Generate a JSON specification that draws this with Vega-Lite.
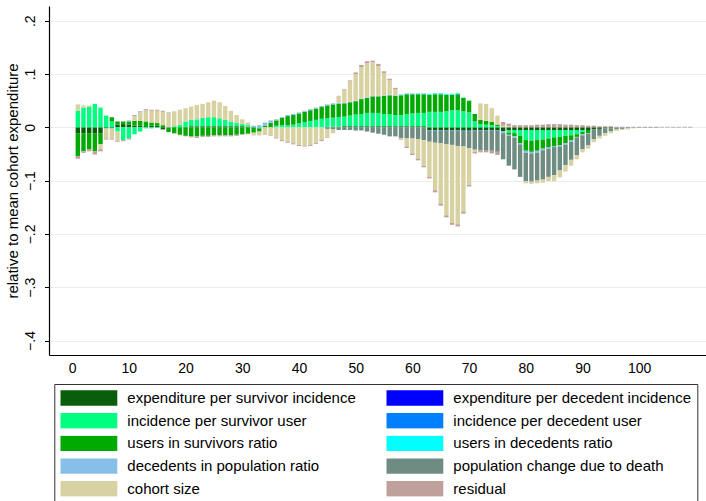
{
  "$schema": "https://vega.github.io/schema/vega-lite/v6.json",
  "width": 657,
  "height": 349,
  "autosize": "none",
  "padding": {"left": 49, "top": 6, "right": 0, "bottom": 146},
  "background": "white",
  "config": {
    "font": "Liberation Sans",
    "view": {"stroke": null},
    "axis": {"labelColor": "#000", "titleColor": "#000", "domainColor": "#000", "tickColor": "#000", "titleFontWeight": "normal"}
  },
  "datasets": {
    "comps": [
      {"k": "esi", "label": "expenditure per survivor incidence", "idx": 1},
      {"k": "edi", "label": "expenditure per decedent incidence", "idx": 2},
      {"k": "isu", "label": "incidence per survivor user", "idx": 3},
      {"k": "idu", "label": "incidence per decedent user", "idx": 4},
      {"k": "usr", "label": "users in survivors ratio", "idx": 5},
      {"k": "udr", "label": "users in decedents ratio", "idx": 6},
      {"k": "dpr", "label": "decedents in population ratio", "idx": 7},
      {"k": "pcd", "label": "population change due to death", "idx": 8},
      {"k": "coh", "label": "cohort size", "idx": 9},
      {"k": "res", "label": "residual", "idx": 10}
    ]
  },
  "data": {"values": [
    {"a":1,"esi":-0.011,"isu":0.031,"usr":-0.043,"coh":0.012,"res":-0.005},
    {"a":2,"esi":-0.011,"isu":0.037,"usr":-0.034,"coh":0.004,"res":-0.003},
    {"a":3,"esi":-0.011,"isu":0.039,"usr":-0.030,"coh":0.002,"res":-0.004},
    {"a":4,"esi":-0.011,"isu":0.044,"usr":-0.034,"res":-0.006},
    {"a":5,"esi":-0.011,"isu":0.037,"usr":-0.021,"coh":-0.009,"res":-0.004},
    {"a":6,"esi":-0.002,"isu":0.022,"coh":-0.019,"res":-0.002},
    {"a":7,"esi":-0.002,"isu":0.011,"usr":0.008,"coh":-0.019,"res":-0.002},
    {"a":8,"esi":0.005,"usr":0.006,"isu":-0.008,"coh":-0.017,"res":-0.002},
    {"a":9,"esi":0.006,"usr":0.005,"isu":-0.024,"res":-0.002},
    {"a":10,"esi":0.005,"usr":0.006,"dpr":0.002,"isu":-0.021,"res":-0.002},
    {"a":11,"esi":0.003,"usr":0.009,"coh":0.009,"res":0.002,"isu":-0.013},
    {"a":12,"esi":0.003,"usr":0.009,"coh":0.016,"res":0.002,"isu":-0.008},
    {"a":13,"esi":0.002,"usr":0.009,"coh":0.021,"res":0.002,"isu":-0.002},
    {"a":14,"esi":0.003,"usr":0.006,"coh":0.022,"res":0.002,"isu":-0.002},
    {"a":15,"esi":0.003,"usr":0.005,"coh":0.023,"res":0.002,"isu":-0.001},
    {"a":16,"usr":0.004,"coh":0.025,"res":0.002,"esi":-0.004},
    {"a":17,"coh":0.027,"res":0.001,"usr":-0.008,"esi":-0.001},
    {"a":18,"isu":0.002,"coh":0.028,"usr":-0.011,"res":-0.001},
    {"a":19,"isu":0.005,"coh":0.028,"usr":-0.014,"res":-0.001},
    {"a":20,"esi":0.001,"isu":0.010,"coh":0.025,"usr":-0.016,"res":-0.001},
    {"a":21,"esi":0.002,"isu":0.012,"coh":0.025,"usr":-0.017,"res":-0.002},
    {"a":22,"esi":0.002,"isu":0.013,"coh":0.027,"usr":-0.017,"res":-0.003},
    {"a":23,"esi":0.002,"isu":0.016,"coh":0.026,"usr":-0.016,"res":-0.002},
    {"a":24,"esi":0.002,"isu":0.017,"coh":0.028,"usr":-0.016,"res":-0.002},
    {"a":25,"esi":0.002,"isu":0.017,"coh":0.031,"usr":-0.015,"res":-0.002},
    {"a":26,"esi":0.002,"isu":0.015,"coh":0.030,"usr":-0.015,"res":-0.002},
    {"a":27,"esi":0.002,"isu":0.012,"coh":0.026,"usr":-0.015,"res":-0.002},
    {"a":28,"esi":0.002,"isu":0.009,"coh":0.020,"usr":-0.015,"res":-0.002},
    {"a":29,"esi":0.002,"isu":0.006,"coh":0.015,"usr":-0.014,"res":-0.002},
    {"a":30,"esi":0.002,"isu":0.004,"coh":0.009,"usr":-0.013,"res":-0.001},
    {"a":31,"esi":0.001,"isu":0.003,"coh":0.005,"usr":-0.012,"res":-0.001},
    {"a":32,"dpr":0.003,"usr":-0.010,"coh":-0.004,"res":-0.001},
    {"a":33,"dpr":0.004,"isu":-0.002,"usr":-0.006,"coh":-0.006,"res":-0.001},
    {"a":34,"usr":0.003,"dpr":0.006,"coh":-0.013,"res":-0.001},
    {"a":35,"usr":0.008,"dpr":0.005,"coh":-0.015,"res":-0.001},
    {"a":36,"isu":0.003,"usr":0.010,"dpr":0.002,"coh":-0.019,"res":-0.002},
    {"a":37,"isu":0.004,"usr":0.014,"dpr":0.001,"coh":-0.024,"res":-0.002},
    {"a":38,"isu":0.004,"usr":0.017,"dpr":0.002,"coh":-0.027,"res":-0.002},
    {"a":39,"isu":0.005,"usr":0.018,"dpr":0.002,"coh":-0.030,"res":-0.002},
    {"a":40,"isu":0.008,"usr":0.018,"dpr":0.002,"coh":-0.033,"res":-0.002},
    {"a":41,"isu":0.010,"usr":0.019,"dpr":0.002,"coh":-0.034,"res":-0.002},
    {"a":42,"isu":0.012,"usr":0.020,"dpr":0.002,"coh":-0.033,"res":-0.002},
    {"a":43,"isu":0.014,"usr":0.021,"dpr":0.002,"coh":-0.029,"res":-0.002},
    {"a":44,"isu":0.016,"usr":0.022,"dpr":0.002,"coh":-0.024,"res":-0.002},
    {"a":45,"isu":0.017,"usr":0.024,"dpr":0.002,"coh":-0.016,"pcd":-0.003,"res":-0.001},
    {"a":46,"esi":0.001,"isu":0.017,"usr":0.025,"dpr":0.002,"coh":-0.006,"pcd":-0.004,"res":-0.001},
    {"a":47,"esi":0.001,"isu":0.018,"usr":0.025,"dpr":0.002,"coh":0.012,"pcd":-0.005,"res":0.001},
    {"a":48,"esi":0.002,"isu":0.018,"usr":0.025,"dpr":0.001,"coh":0.025,"pcd":-0.005,"res":0.001},
    {"a":49,"esi":0.002,"isu":0.020,"usr":0.025,"dpr":0.001,"coh":0.038,"pcd":-0.005,"res":0.002},
    {"a":50,"esi":0.002,"isu":0.022,"usr":0.025,"dpr":0.001,"coh":0.050,"pcd":-0.006,"res":0.003},
    {"a":51,"esi":0.002,"isu":0.023,"usr":0.028,"dpr":0.001,"coh":0.059,"pcd":-0.006,"res":0.004},
    {"a":52,"esi":0.002,"isu":0.025,"usr":0.028,"dpr":0.001,"coh":0.064,"pcd":-0.008,"res":0.004},
    {"a":53,"esi":0.002,"isu":0.025,"usr":0.031,"dpr":0.001,"coh":0.063,"pcd":-0.010,"res":0.003},
    {"a":54,"esi":0.002,"isu":0.025,"usr":0.031,"dpr":0.001,"coh":0.056,"pcd":-0.012,"res":0.004},
    {"a":55,"esi":0.002,"isu":0.023,"usr":0.034,"dpr":0.001,"coh":0.042,"pcd":-0.014,"res":0.003},
    {"a":56,"esi":0.002,"isu":0.023,"usr":0.035,"dpr":0.001,"coh":0.027,"pcd":-0.017,"res":0.003},
    {"a":57,"esi":0.002,"isu":0.021,"usr":0.036,"dpr":0.001,"coh":0.011,"pcd":-0.017,"res":0.003},
    {"a":58,"esi":0.002,"isu":0.021,"usr":0.037,"dpr":0.001,"udr":0.001,"pcd":-0.020,"coh":-0.003,"res":-0.001},
    {"a":59,"esi":0.002,"isu":0.023,"usr":0.037,"dpr":0.001,"udr":0.001,"pcd":-0.021,"coh":-0.015,"res":-0.003},
    {"a":60,"esi":0.002,"isu":0.024,"usr":0.036,"dpr":0.001,"udr":0.001,"pcd":-0.021,"coh":-0.028,"res":-0.003},
    {"a":61,"esi":0.002,"isu":0.025,"usr":0.035,"dpr":0.001,"udr":0.001,"pcd":-0.022,"coh":-0.037,"res":-0.003},
    {"a":62,"esi":0.002,"isu":0.025,"usr":0.035,"dpr":0.001,"udr":0.001,"pcd":-0.024,"coh":-0.048,"res":-0.003},
    {"a":63,"esi":-0.005,"isu":0.029,"usr":0.032,"udr":0.002,"idu":-0.001,"pcd":-0.021,"coh":-0.066,"res":-0.003},
    {"a":64,"esi":-0.005,"isu":0.029,"usr":0.033,"udr":0.002,"idu":-0.001,"pcd":-0.023,"coh":-0.089,"res":-0.004},
    {"a":65,"esi":-0.005,"isu":0.029,"usr":0.033,"udr":0.002,"idu":-0.001,"pcd":-0.024,"coh":-0.113,"res":-0.004},
    {"a":66,"esi":-0.005,"isu":0.030,"usr":0.031,"udr":0.002,"idu":-0.001,"pcd":-0.026,"coh":-0.133,"res":-0.004},
    {"a":67,"esi":-0.005,"isu":0.032,"usr":0.029,"udr":0.002,"idu":-0.001,"pcd":-0.027,"coh":-0.146,"res":-0.004},
    {"a":68,"esi":-0.005,"isu":0.032,"usr":0.030,"udr":0.002,"idu":-0.001,"pcd":-0.029,"coh":-0.147,"res":-0.004},
    {"a":69,"esi":-0.006,"isu":0.030,"usr":0.025,"udr":0.001,"idu":-0.001,"pcd":-0.029,"coh":-0.122,"res":-0.004},
    {"a":70,"esi":-0.006,"isu":0.028,"usr":0.022,"idu":-0.001,"pcd":-0.032,"coh":-0.069,"res":-0.003},
    {"a":71,"esi":-0.005,"isu":0.011,"usr":0.014,"idu":-0.001,"pcd":-0.036,"coh":-0.004,"res":-0.003},
    {"a":72,"esi":-0.005,"isu":0.006,"usr":0.008,"coh":0.031,"idu":-0.001,"pcd":-0.037,"res":-0.004},
    {"a":73,"esi":-0.005,"isu":0.005,"usr":0.007,"coh":0.032,"idu":-0.001,"pcd":-0.038,"res":-0.003},
    {"a":74,"esi":-0.005,"isu":0.004,"usr":0.006,"coh":0.026,"idu":-0.001,"pcd":-0.038,"res":-0.005},
    {"a":75,"esi":-0.005,"isu":0.002,"usr":0.003,"coh":0.017,"idu":-0.001,"pcd":-0.040,"res":-0.006},
    {"a":76,"coh":0.003,"res":0.007,"esi":-0.007,"dpr":-0.004,"pcd":-0.049},
    {"a":77,"coh":0.002,"res":0.005,"esi":-0.006,"isu":-0.004,"usr":-0.004,"dpr":-0.002,"pcd":-0.056},
    {"a":78,"res":0.004,"esi":-0.005,"isu":-0.006,"usr":-0.006,"dpr":-0.003,"pcd":-0.059},
    {"a":79,"res":0.004,"esi":-0.005,"isu":-0.011,"usr":-0.014,"dpr":-0.002,"pcd":-0.061},
    {"a":80,"res":0.004,"esi":-0.005,"isu":-0.019,"usr":-0.020,"dpr":-0.004,"pcd":-0.053,"coh":-0.004},
    {"a":81,"res":0.004,"esi":-0.005,"isu":-0.020,"usr":-0.021,"dpr":-0.003,"pcd":-0.053,"coh":-0.004},
    {"a":82,"res":0.005,"esi":-0.005,"isu":-0.019,"usr":-0.020,"dpr":-0.004,"pcd":-0.052,"coh":-0.005},
    {"a":83,"res":0.005,"esi":-0.005,"isu":-0.018,"usr":-0.017,"dpr":-0.003,"pcd":-0.055,"coh":-0.006},
    {"a":84,"res":0.006,"esi":-0.005,"isu":-0.016,"usr":-0.017,"dpr":-0.002,"pcd":-0.053,"coh":-0.008},
    {"a":85,"res":0.006,"esi":-0.005,"isu":-0.014,"usr":-0.016,"dpr":-0.002,"pcd":-0.053,"coh":-0.011},
    {"a":86,"res":0.006,"esi":-0.005,"isu":-0.013,"usr":-0.016,"dpr":-0.002,"pcd":-0.045,"coh":-0.013},
    {"a":87,"res":0.005,"esi":-0.005,"isu":-0.011,"usr":-0.014,"dpr":-0.003,"pcd":-0.038,"coh":-0.012},
    {"a":88,"res":0.005,"esi":-0.005,"isu":-0.010,"usr":-0.009,"dpr":-0.003,"pcd":-0.034,"coh":-0.011},
    {"a":89,"res":0.004,"esi":-0.005,"isu":-0.008,"usr":-0.005,"dpr":-0.001,"pcd":-0.033,"coh":-0.008},
    {"a":90,"res":0.004,"esi":-0.005,"isu":-0.004,"usr":-0.004,"dpr":-0.002,"pcd":-0.026,"coh":-0.006},
    {"a":91,"res":0.003,"esi":-0.005,"usr":-0.006,"dpr":-0.001,"pcd":-0.022,"coh":-0.006},
    {"a":92,"res":0.003,"esi":-0.004,"pcd":-0.018,"coh":-0.006},
    {"a":93,"res":0.002,"esi":-0.003,"pcd":-0.013,"coh":-0.005},
    {"a":94,"res":0.002,"esi":-0.002,"pcd":-0.009,"coh":-0.005},
    {"a":95,"res":0.002,"esi":-0.002,"pcd":-0.005,"coh":-0.004},
    {"a":96,"res":0.001,"pcd":-0.004,"coh":-0.003},
    {"a":97,"res":0.001,"pcd":-0.003,"coh":-0.002},
    {"a":98,"res":0.001,"pcd":-0.002,"coh":-0.002},
    {"a":99,"res":0.001,"pcd":-0.001,"coh":-0.001},
    {"a":100,"res":0.001,"pcd":-0.001},
    {"a":101,"res":0.001,"pcd":-0.001},
    {"a":102,"res":0.001,"pcd":-0.001},
    {"a":103,"res":0.001,"pcd":-0.001},
    {"a":104,"res":0.001,"pcd":-0.0005},
    {"a":105,"res":0.001,"pcd":-0.0005},
    {"a":106,"res":0.001,"pcd":-0.0005},
    {"a":107,"res":0.001,"pcd":-0.0005},
    {"a":108,"res":0.001,"pcd":-0.0005},
    {"a":109,"res":0.001,"pcd":-0.0005}
  ]},
  "transform": [
    {"fold": ["esi","edi","isu","idu","usr","udr","dpr","pcd","coh","res"], "as": ["k","v"]},
    {"filter": "isValid(datum.v) && datum.v != 0"},
    {"lookup": "k", "from": {"data": {"name": "comps"}, "key": "k", "fields": ["label","idx"]}}
  ],
  "mark": {"type": "bar", "width": 4.4},
  "encoding": {
    "x": {
      "field": "a", "type": "quantitative",
      "scale": {"domain": [-3.2, 110.9], "nice": false, "zero": false},
      "axis": {"values": [0,10,20,30,40,50,60,70,80,90,100], "ticks": false, "grid": false, "title": null, "labelPadding": 6, "labelFontSize": 14, "labelFlush": false, "domainWidth": 1.2}
    },
    "y": {
      "field": "v", "type": "quantitative", "stack": "zero",
      "scale": {"domain": [-0.4272, 0.2276], "nice": false, "zero": false},
      "axis": {
        "values": [-0.4,-0.3,-0.2,-0.1,0,0.1,0.2],
        "labelExpr": "datum.value == 0 ? '0' : replace(format(datum.value, '.1f'), '0.', '.')",
        "labelAngle": -90, "labelAlign": "center", "labelBaseline": "alphabetic",
        "labelPadding": 10, "labelFontSize": 14, "tickSize": 4.5, "domainWidth": 1.2,
        "grid": true, "gridColor": "#E6EEF0", "gridWidth": 1,
        "title": "relative to mean cohort expenditure",
        "titleFontSize": 15, "titleX": -31.6, "titleY": 174.5, "titleAngle": -90,
        "titleAlign": "center", "titleBaseline": "alphabetic"
      }
    },
    "color": {
      "field": "label", "type": "nominal",
      "scale": {
        "domain": ["expenditure per survivor incidence","incidence per survivor user","users in survivors ratio","decedents in population ratio","cohort size","expenditure per decedent incidence","incidence per decedent user","users in decedents ratio","population change due to death","residual"],
        "range": ["#0A5D0A","#00FF80","#00AA00","#86BFE8","#D8D2A2","#0000FF","#0080FF","#00FFFF","#6F8C82","#C0A09A"]
      },
      "legend": {
        "orient": "none", "legendX": 5.3, "legendY": 378, "title": null,
        "columns": 2, "columnPadding": 30, "rowPadding": 6.7, "padding": 6, "clipHeight": 16,
        "symbolType": "M-1,-0.27H1V0.27H-1Z", "symbolSize": 3249, "symbolStrokeWidth": 0, "symbolOpacity": 1,
        "labelFontSize": 15, "labelColor": "#000", "labelOffset": 10, "labelLimit": 400, "labelBaseline": "middle",
        "strokeColor": "#333", "fillColor": "#fff"
      }
    },
    "order": {"field": "idx", "type": "quantitative"}
  }
}
